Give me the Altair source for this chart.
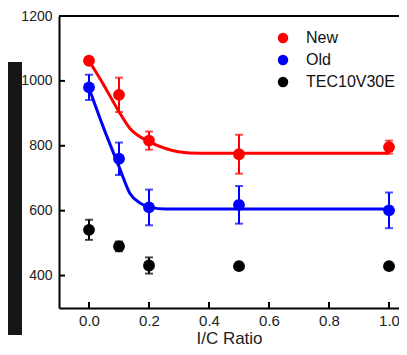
import altair as alt
import pandas as pd

# ---- data ----
series_names = ["New", "Old", "TEC10V30E"]
series_colors = ["#ff0000", "#0000ff", "#000000"]

ratio = [0.0, 0.1, 0.2, 0.5, 1.0]
new_vals = [1062, 957, 816, 774, 796]
new_err = [8, 53, 28, 60, 20]
old_vals = [980, 760, 610, 618, 601]
old_err = [39, 50, 55, 58, 55]
tec_vals = [541, 490, 431, 429, 429]
tec_err = [31, 15, 25, 10, 8]

new_fit_x = [0.0, 0.05, 0.1, 0.136, 0.2, 0.258, 0.336, 0.4, 1.0]
new_fit_y = [1062, 986, 905, 854, 813, 791, 778, 777, 777]
old_fit_x = [0.0, 0.047, 0.1, 0.136, 0.169, 0.202, 0.258, 0.3, 1.0]
old_fit_y = [978, 859, 736, 654, 624, 611, 605, 605, 605]

x_ticks = [0.0, 0.2, 0.4, 0.6, 0.8, 1.0]
y_ticks = [400, 600, 800, 1000, 1200]

# ---- tables ----
rows = []
for name, vals, errs in [("New", new_vals, new_err), ("Old", old_vals, old_err),
                         ("TEC10V30E", tec_vals, tec_err)]:
    for r, v, e in zip(ratio, vals, errs):
        rows.append({"ratio": r, "value": v, "lo": v - e, "hi": v + e, "series": name})
pts = pd.DataFrame(rows)

fit_rows = []
for name, xs, ys in [("New", new_fit_x, new_fit_y), ("Old", old_fit_x, old_fit_y)]:
    for i, (a, b) in enumerate(zip(xs, ys)):
        fit_rows.append({"ratio": a, "value": b, "series": name, "order": i})
fits = pd.DataFrame(fit_rows)

xt = pd.DataFrame({"ratio": x_ticks})
yt = pd.DataFrame({"value": y_ticks})

W, H = 340, 292
FONT = "Liberation Sans"
xscale = alt.Scale(domain=[-0.1, -0.1 + W / 300.0], nice=False, zero=False)
yscale = alt.Scale(domain=[300, 1200], nice=False, zero=False)
cscale = alt.Scale(domain=series_names, range=series_colors)

xaxis = alt.Axis(values=x_ticks, format=".1f", ticks=False, tickSize=0, domain=True,
                 domainColor="#000", domainWidth=2,
                 grid=False, labelFontSize=15, labelPadding=5, labelColor="#222",
                 labelFont=FONT, title="I/C Ratio", titleFont=FONT, titleFontSize=17,
                 titleFontWeight="normal", titlePadding=2, titleColor="#222")
yaxis = alt.Axis(values=y_ticks, format="d", ticks=False, tickSize=0, domain=True,
                 domainColor="#000", domainWidth=2, grid=False,
                 labelFontSize=14, labelPadding=7, labelColor="#222", labelFont=FONT,
                 title=None)

X = alt.X("ratio:Q", scale=xscale, axis=xaxis)
Y = alt.Y("value:Q", scale=yscale, axis=yaxis)
C_nolegend = alt.Color("series:N", scale=cscale, legend=None)

fit_lines = alt.Chart(fits).mark_line(strokeWidth=3, interpolate="monotone").encode(
    x=X, y=Y, order="order:Q", color=C_nolegend)

err_rules = alt.Chart(pts).mark_rule(strokeWidth=2).encode(
    x=X, y=alt.Y("lo:Q", scale=yscale), y2="hi:Q", color=C_nolegend)
cap_lo = alt.Chart(pts).mark_tick(orient="horizontal", size=8, thickness=2).encode(
    x=X, y=alt.Y("lo:Q", scale=yscale), color=C_nolegend)
cap_hi = alt.Chart(pts).mark_tick(orient="horizontal", size=8, thickness=2).encode(
    x=X, y=alt.Y("hi:Q", scale=yscale), color=C_nolegend)

points = alt.Chart(pts).mark_circle(size=140, opacity=1).encode(
    x=X, y=Y,
    color=alt.Color("series:N", scale=cscale,
                    legend=alt.Legend(title=None, orient="none", legendX=216, legendY=14,
                                      symbolType="circle", symbolSize=110,
                                      symbolStrokeWidth=0, labelFontSize=16,
                                      labelFont=FONT, labelColor="#111",
                                      labelOffset=15, rowPadding=6, padding=0)),
)

xtick_marks = alt.Chart(xt).mark_rule(color="#000", strokeWidth=2).encode(
    x=alt.X("ratio:Q", scale=xscale), y=alt.value(H), y2=alt.value(H - 6))
ytick_marks = alt.Chart(yt).mark_rule(color="#000", strokeWidth=2).encode(
    y=alt.Y("value:Q", scale=yscale), x=alt.value(0), x2=alt.value(6))
top_border = alt.Chart(xt).mark_rule(color="#000", strokeWidth=2).encode(
    x=alt.value(0), x2=alt.value(W), y=alt.value(0))

panel = alt.Chart(pd.DataFrame({"k": [0]})).mark_rect(color="#161616").encode(
    x=alt.value(-51), x2=alt.value(-37), y=alt.value(46), y2=alt.value(319))

chart = alt.layer(panel, fit_lines, err_rules, cap_lo, cap_hi, points,
                  xtick_marks, ytick_marks, top_border).resolve_scale(
    color="independent").properties(
    width=W, height=H,
    background="white",
    autosize=alt.AutoSizeParams(type="none"),
    padding={"left": 51, "top": 8, "right": 0, "bottom": 39},
).configure_view(stroke=None)

chart.save("out.html", embed_options={"renderer": "svg", "actions": False})
